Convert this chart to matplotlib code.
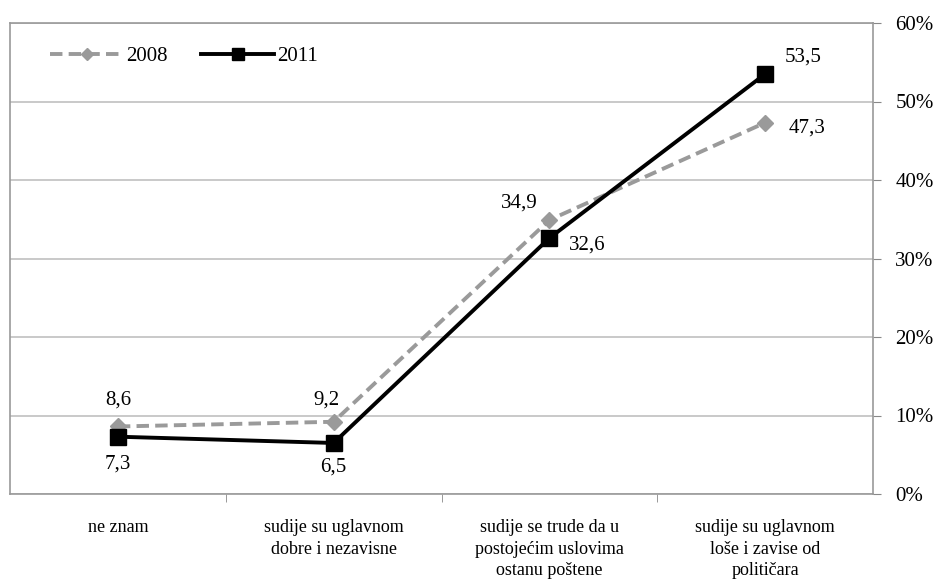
import matplotlib.pyplot as plt
from matplotlib.ticker import FuncFormatter

categories = ['ne znam',
              'sudije su uglavnom\ndobre i nezavisne',
              'sudije se trude da u\npostojećim uslovima\nostanu poštene',
              'sudije su uglavnom\nloše i zavise od\npolitičara']
vals_2008 = [8.6, 9.2, 34.9, 47.3]
vals_2011 = [7.3, 6.5, 32.6, 53.5]
yticks = [0, 10, 20, 30, 40, 50, 60]

plt.rcParams['font.family'] = ['Liberation Serif', 'DejaVu Serif']

fig = plt.figure(figsize=(9.38, 5.87), dpi=100)
ax = fig.add_axes([10 / 938, 93 / 587, 863 / 938, 471 / 587])

x = list(range(len(categories)))
ax.plot(x, vals_2008, color='#9a9a9a', lw=2.8, ls=(0, (3.2, 1.6)),
        marker='D', ms=8, label='2008', zorder=3)
ax.plot(x, vals_2011, color='black', lw=2.8,
        marker='s', ms=11, label='2011', zorder=4)

# data labels
off_2008 = [(0, 19), (-5, 16), (-22, 12), (30, -4)]
off_2011 = [(0, -20), (0, -17), (27, -5), (27, 12)]
for i in x:
    ax.annotate(f'{vals_2008[i]:.1f}'.replace('.', ','), (i, vals_2008[i]),
                xytext=off_2008[i], textcoords='offset points',
                ha='center', va='center', fontsize=15)
    ax.annotate(f'{vals_2011[i]:.1f}'.replace('.', ','), (i, vals_2011[i]),
                xytext=off_2011[i], textcoords='offset points',
                ha='center', va='center', fontsize=15)

ax.set_xlim(-0.5, 3.5)
ax.set_ylim(0, 60)
ax.set_yticks(yticks)
ax.yaxis.set_major_formatter(FuncFormatter(lambda v, p: f'{v:.0f}%'))
ax.yaxis.tick_right()
ax.tick_params(axis='y', length=6, color='#888888', labelsize=15, pad=10)
ax.grid(axis='y', color='#c0c0c0', lw=1.2)

ax.set_xticks(x)
ax.set_xticklabels(categories, fontsize=13, linespacing=1.35)
ax.set_xticks([0.5, 1.5, 2.5], minor=True)
ax.tick_params(axis='x', which='major', length=0, pad=18)
ax.tick_params(axis='x', which='minor', length=6, color='#888888')
for s in ax.spines.values():
    s.set_color('#999999')
    s.set_linewidth(1.2)

ax.legend(loc='upper left', ncol=2, frameon=False, fontsize=15,
          bbox_to_anchor=(0.025, 0.99), handlelength=3.5, columnspacing=1.6,
          handletextpad=0.15, markerscale=0.75)

fig.savefig('out.png', dpi=100)
